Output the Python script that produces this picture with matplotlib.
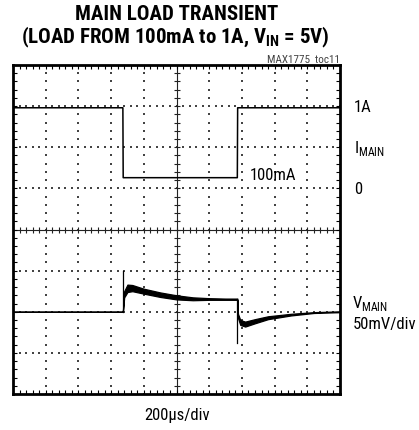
import numpy as np
import matplotlib.pyplot as plt
from matplotlib import font_manager

# scope settings
t_per_div = 200.0     # us
i_per_div = 0.5       # A
v_per_div = 50.0      # mV
i_zero_div = 5        # division of 0A
v_zero_div = 2        # division of V nominal

# load current step (us, A)
cur_t = [0, 672, 674, 1372, 1374, 2000]
cur_a = [0.98, 0.98, 0.13, 0.13, 0.98, 0.98]

# output voltage ripple band (us, mV deviation)
v_t = [0, 672, 680, 700, 730, 800, 900, 1000, 1100, 1200, 1300, 1372,
       1376, 1390, 1420, 1480, 1560, 1700, 1840, 2000]
v_up = [0, 0, 25, 33, 32.5, 28, 23.5, 20, 17.5, 16.5, 16, 16,
        -2.5, -10, -12, -9, -5.5, -2.5, -0.5, 0.5]
v_lo = [0, 0, 17.5, 24, 25, 22, 18, 15, 14, 14.5, 14.5, 14.5,
        -7.5, -16, -18, -14, -9, -4.5, -1.5, -0.5]

# spikes at the load edges (us, mV)
spike_t = [672, 1373]
spike_from = [0, 15]
spike_to = [50, -38]

names = {f.name for f in font_manager.fontManager.ttflist}
narrow = next((n for n in ['Roboto Condensed', 'Archivo Narrow', 'Sofia Sans Condensed']
               if n in names), 'DejaVu Sans')
plt.rcParams['font.family'] = [narrow, 'DejaVu Sans']
plt.rcParams['mathtext.fontset'] = 'custom'
plt.rcParams['mathtext.rm'] = narrow
plt.rcParams['mathtext.bf'] = narrow + ':black'

W, H = 419, 431
fig = plt.figure(figsize=(W / 100, H / 100), dpi=100)
x0, x1, y0, y1 = 13, 340, 66, 395
ax = fig.add_axes([x0 / W, 1 - y1 / H, (x1 - x0) / W, (y1 - y0) / H])
ax.set_xlim(0, 10)
ax.set_ylim(0, 8)


def px(x, y):
    return x / W, 1 - y / H


# dotted graticule
sub = np.arange(0, 10.01, 0.2)
subv = np.arange(0, 8.01, 0.2)
for k in range(1, 8):
    if k == 4:
        continue
    ax.scatter(sub, np.full_like(sub, k), s=0.9, marker='s', color='#444444', lw=0, zorder=1)
for k in range(1, 10):
    if k == 5:
        continue
    ax.scatter(np.full_like(subv, k), subv, s=0.9, marker='s', color='#444444', lw=0, zorder=1)

# center crosshair with ticks
ax.axhline(4, color='#222222', lw=0.8, zorder=1)
ax.axvline(5, color='#222222', lw=0.8, zorder=1)
ax.plot(sub, np.full_like(sub, 4), ls='none', marker='|', ms=4.5, mew=0.8, color='#222222')
ax.plot(np.full_like(subv, 5), subv, ls='none', marker='_', ms=4.5, mew=0.8, color='#222222')

# border ticks
ax.set_xticks(np.arange(0, 11, 1))
ax.set_yticks(np.arange(0, 9, 1))
ax.set_xticks(sub, minor=True)
ax.set_yticks(subv, minor=True)
ax.tick_params(which='both', direction='in', length=3, width=0.8,
               top=True, right=True, labelbottom=False, labelleft=False)
for s in ax.spines.values():
    s.set_linewidth(2.0)

# current trace
cx = np.array(cur_t) / t_per_div
cy = i_zero_div + np.array(cur_a) / i_per_div
ax.plot(cx, cy, color='black', lw=1.1, zorder=3)

# voltage trace
vx = np.array(v_t) / t_per_div
ax.fill_between(vx, v_zero_div + np.array(v_lo) / v_per_div,
                v_zero_div + np.array(v_up) / v_per_div,
                color='black', lw=0.9, zorder=3)
for t, a, b in zip(spike_t, spike_from, spike_to):
    ax.plot([t / t_per_div] * 2, [v_zero_div + a / v_per_div, v_zero_div + b / v_per_div],
            color='black', lw=0.9, zorder=3)

# text
fig.text(*px(177, 14), 'MAIN LOAD TRANSIENT', ha='center', va='center',
         fontsize=15, fontweight='black')
fig.text(*px(175, 37), r'(LOAD FROM 100mA to 1A, V$_{\mathbf{IN}}$ = 5V)', ha='center',
         va='center', fontsize=15, fontweight='black')
fig.text(*px(340, 60), 'MAX1775  toc11', ha='right', va='center', fontsize=8, color='#444444')
fig.text(*px(354, 107), '1A', ha='left', va='center', fontsize=12)
fig.text(*px(354, 148), r'I$_{\mathrm{MAIN}}$', ha='left', va='center', fontsize=12)
fig.text(*px(354, 190), '0', ha='left', va='center', fontsize=12)
fig.text(*px(250, 175), '100mA', ha='left', va='center', fontsize=12)
fig.text(*px(352, 304), r'V$_{\mathrm{MAIN}}$', ha='left', va='center', fontsize=12)
fig.text(*px(353, 324), '50mV/div', ha='left', va='center', fontsize=12)
fig.text(*px(177, 416), '200µs/div', ha='center', va='center', fontsize=12)

fig.savefig('out.png', dpi=100)
